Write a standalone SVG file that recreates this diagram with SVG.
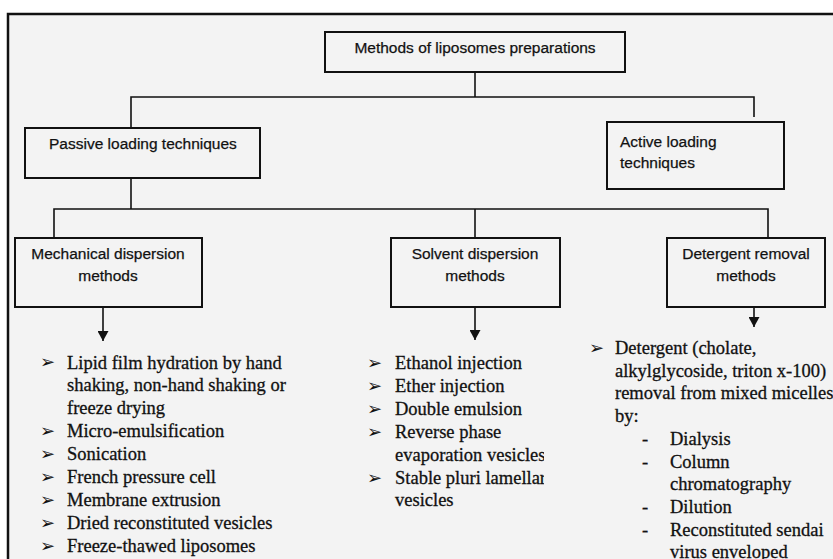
<svg xmlns="http://www.w3.org/2000/svg" width="833" height="559" viewBox="0 0 833 559">
<defs>
<style>
.box{fill:#f3f3f3;stroke:#111;stroke-width:2}
.bt{font-family:"Liberation Sans",Arial,sans-serif;font-size:15.5px;fill:#111;stroke:#111;stroke-width:0.25}
.c{stroke:#111;stroke-width:1.6;fill:none}
.li{font-family:"Liberation Serif","Times New Roman",serif;font-size:18.5px;fill:#111;stroke:#111;stroke-width:0.3}
.bu{font-family:"DejaVu Sans",sans-serif;font-size:18px;fill:#111}
</style>
<marker id="ah" markerUnits="userSpaceOnUse" markerWidth="11" markerHeight="11" viewBox="0 0 11 11" refX="10" refY="5.5" orient="auto"><path d="M0,0 L10,5.5 L0,11 Z" fill="#111"/></marker>
<clipPath id="solclip"><rect x="360" y="340" width="184" height="219"/></clipPath>
</defs>
<rect x="0" y="0" width="833" height="559" fill="#ffffff"/>
<rect x="8" y="14" width="830" height="550" fill="#f3f3f3"/>
<path d="M8,562 V14 H836" fill="none" stroke="#111" stroke-width="2.5"/>

<g id="connectors">
<path class="c" d="M475,72 V97"/>
<path class="c" d="M131,128 V97 H754 V117"/>
<path class="c" d="M131,178 V209"/>
<path class="c" d="M54,238 V209 H768 V238"/>
<path class="c" d="M475,209 V238"/>
<path class="c" d="M103,307 V341" marker-end="url(#ah)"/>
<path class="c" d="M475,307 V340" marker-end="url(#ah)"/>
<path class="c" d="M754,307 V327" marker-end="url(#ah)"/>
</g>

<g id="root">
<rect class="box" x="325" y="32" width="300" height="40"/>
<text class="bt" x="475" y="53" text-anchor="middle">Methods of liposomes preparations</text>
</g>

<g id="passive">
<rect class="box" x="25" y="128" width="235" height="50"/>
<text class="bt" x="49" y="149">Passive loading techniques</text>
</g>

<g id="active">
<rect class="box" x="607" y="122" width="177" height="67"/>
<text class="bt" x="620" y="147">Active loading</text>
<text class="bt" x="620" y="168">techniques</text>
</g>

<g id="mechanical">
<rect class="box" x="15" y="238" width="187" height="69"/>
<text class="bt" x="108" y="259" text-anchor="middle">Mechanical dispersion</text>
<text class="bt" x="108" y="281" text-anchor="middle">methods</text>
</g>

<g id="solvent">
<rect class="box" x="391" y="238" width="169" height="69"/>
<text class="bt" x="475" y="259" text-anchor="middle">Solvent dispersion</text>
<text class="bt" x="475" y="281" text-anchor="middle">methods</text>
</g>

<g id="detergent">
<rect class="box" x="667" y="238" width="158" height="69"/>
<text class="bt" x="746" y="259" text-anchor="middle">Detergent removal</text>
<text class="bt" x="746" y="281" text-anchor="middle">methods</text>
</g>

<g id="mechanical-list">
<text class="bu" x="40" y="368">➢</text>
<text class="li" x="67" y="368.5">Lipid film hydration by hand</text>
<text class="li" x="67" y="391.4">shaking, non-hand shaking or</text>
<text class="li" x="67" y="414.3">freeze drying</text>
<text class="bu" x="40" y="437">➢</text>
<text class="li" x="67" y="437.2">Micro-emulsification</text>
<text class="bu" x="40" y="460">➢</text>
<text class="li" x="67" y="460.1">Sonication</text>
<text class="bu" x="40" y="483">➢</text>
<text class="li" x="67" y="483">French pressure cell</text>
<text class="bu" x="40" y="506">➢</text>
<text class="li" x="67" y="505.9">Membrane extrusion</text>
<text class="bu" x="40" y="529">➢</text>
<text class="li" x="67" y="528.8">Dried reconstituted vesicles</text>
<text class="bu" x="40" y="552">➢</text>
<text class="li" x="67" y="551.7">Freeze-thawed liposomes</text>
</g>

<g id="solvent-list">
<text class="bu" x="367" y="369">➢</text>
<text class="li" x="395" y="369">Ethanol injection</text>
<text class="bu" x="367" y="392">➢</text>
<text class="li" x="395" y="391.9">Ether injection</text>
<text class="bu" x="367" y="415">➢</text>
<text class="li" x="395" y="414.8">Double emulsion</text>
<text class="bu" x="367" y="438">➢</text>
<text class="li" x="395" y="437.7">Reverse phase</text>
<g clip-path="url(#solclip)">
<text class="li" x="395" y="460.6">evaporation vesicles</text>
<text class="li" x="395" y="483.5">Stable pluri lamellar</text>
</g>
<text class="bu" x="367" y="483.5">➢</text>
<text class="li" x="395" y="506.4">vesicles</text>
</g>

<g id="detergent-list">
<text class="bu" x="589" y="354">➢</text>
<text class="li" x="615" y="354">Detergent (cholate,</text>
<text class="li" x="615" y="376.7">alkylglycoside, triton x-100)</text>
<text class="li" x="615" y="399.4">removal from mixed micelles</text>
<text class="li" x="615" y="422.1">by:</text>
<text class="li" x="642" y="444.8">-</text>
<text class="li" x="670" y="444.8">Dialysis</text>
<text class="li" x="642" y="467.5">-</text>
<text class="li" x="670" y="467.5">Column</text>
<text class="li" x="670" y="490.2">chromatography</text>
<text class="li" x="642" y="512.9">-</text>
<text class="li" x="670" y="512.9">Dilution</text>
<text class="li" x="642" y="535.6">-</text>
<text class="li" x="670" y="535.6">Reconstituted sendai</text>
<text class="li" x="670" y="558.3">virus enveloped</text>
</g>
</svg>
